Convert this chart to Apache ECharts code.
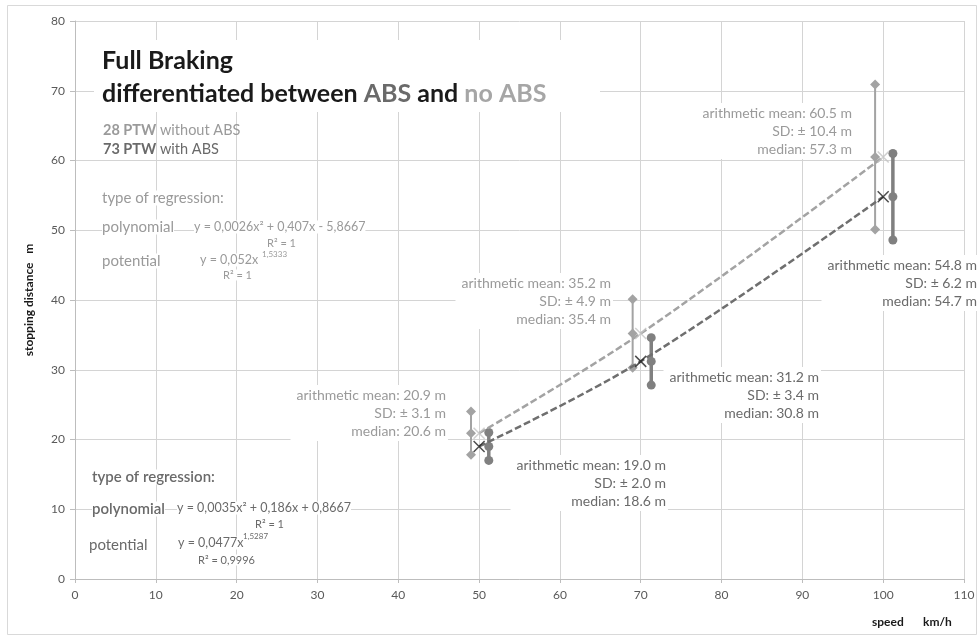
<!DOCTYPE html>
<html>
<head>
<meta charset="utf-8">
<script src="https://cdn.jsdelivr.net/npm/echarts@6/dist/echarts.min.js"></script>
<style>
  html, body { margin: 0; padding: 0; background: #fff; }
  #chart { width: 978px; height: 637px; }
</style>
</head>
<body>
<div id="chart"></div>
<script>
// Nominal test speeds (km/h) where the group means sit
const speeds = [50, 70, 100];
// Slightly offset x positions of the two spread bars so they do not overlap
const speedsNoAbsBar = [49, 69, 99];
const speedsAbsBar = [51.2, 71.3, 101.2];

// Stopping distance statistics (m), PTW without ABS
const meanNoAbs = [20.9, 35.2, 60.5];
const sdNoAbs = [3.1, 4.9, 10.4];
const medianNoAbs = [20.6, 35.4, 57.3];

// Stopping distance statistics (m), PTW with ABS
const meanAbs = [19.0, 31.2, 54.8];
const sdAbs = [2.0, 3.4, 6.2];
const medianAbs = [18.6, 30.8, 54.7];

// Axis ticks
const xTicks = [0, 10, 20, 30, 40, 50, 60, 70, 80, 90, 100, 110];
const yTicks = [0, 10, 20, 30, 40, 50, 60, 70, 80];

const FONT = 'Lato, "Open Sans", sans-serif';
const LIGHT = '#a3a3a3';
const DARK = '#6f6f6f';
const TXT_LIGHT = '#9a9a9a';
const TXT_DARK = '#6a6a6a';

const chart = echarts.init(document.getElementById('chart'));

// spread bars: mean + SD, mean, mean - SD per speed
function spreadSeries(xs, means, sds, color, symbol, size, width) {
  return xs.map((x, i) => ({
    type: 'line',
    data: [[x, +(means[i] + sds[i]).toFixed(1)], [x, means[i]], [x, +(means[i] - sds[i]).toFixed(1)]],
    symbol: symbol,
    symbolSize: size,
    showSymbol: true,
    lineStyle: { color: color, width: width },
    itemStyle: { color: color },
    z: 3,
    silent: true,
    animation: false
  }));
}

const crossPath = 'path://M0,0 L10,10 M10,0 L0,10';

const series = []
  .concat(spreadSeries(speedsNoAbsBar, meanNoAbs, sdNoAbs, LIGHT, 'diamond', 10, 2))
  .concat(spreadSeries(speedsAbsBar, meanAbs, sdAbs, '#808080', 'circle', 9, 3.5))
  .concat([
    {
      type: 'line',
      data: speeds.map((s, i) => [s, meanNoAbs[i]]),
      smooth: 0.35,
      symbol: 'none',
      lineStyle: { color: LIGHT, width: 2.5, type: [7, 3] },
      z: 4, animation: false
    },
    {
      type: 'line',
      data: speeds.map((s, i) => [s, meanAbs[i]]),
      smooth: 0.35,
      symbol: 'none',
      lineStyle: { color: DARK, width: 2.5, type: [7, 3] },
      z: 4, animation: false
    },
    {
      type: 'scatter',
      data: speeds.map((s, i) => [s, meanNoAbs[i]]),
      symbol: crossPath,
      symbolSize: 11,
      itemStyle: { color: 'none', borderColor: '#c4c4c4', borderWidth: 1.6 },
      z: 6, animation: false
    },
    {
      type: 'scatter',
      data: speeds.map((s, i) => [s, meanAbs[i]]),
      symbol: crossPath,
      symbolSize: 11,
      itemStyle: { color: 'none', borderColor: '#222', borderWidth: 1.5 },
      z: 6, animation: false
    }
  ]);

// annotation block: three right-aligned lines; rightX = right edge, midY = centre of first line
function statBlock(rightX, midY, mean, sd, median, color) {
  return {
    type: 'text',
    x: rightX,
    y: midY - 10,
    z: 10,
    style: {
      text: 'arithmetic mean: ' + mean.toFixed(1) + ' m\nSD: ± ' + sd.toFixed(1) + ' m\nmedian: ' + median.toFixed(1) + ' m',
      align: 'right',
      verticalAlign: 'top',
      font: '14px ' + FONT,
      fill: color,
      lineHeight: 18,
      backgroundColor: '#fff',
      padding: [1, 2, 1, 6]
    }
  };
}

function txt(x, y, text, size, color, weight, extra) {
  return {
    type: 'text', x: x, y: y, z: 10,
    style: Object.assign({
      text: text,
      font: (weight || 'normal') + ' ' + size + 'px ' + FONT,
      fill: color,
      verticalAlign: 'middle',
      backgroundColor: '#fff'
    }, extra || {})
  };
}

const graphic = [
  // outer frame
  { type: 'rect', shape: { x: 7.5, y: 5.5, width: 969, height: 629 }, style: { fill: 'none', stroke: '#d9d9d9', lineWidth: 1 }, z: 0, silent: true },
  // title panel
  { type: 'rect', shape: { x: 94, y: 40, width: 506, height: 72 }, style: { fill: '#fff' }, z: 9 },
  txt(102, 61, 'Full Braking', 25, '#1a1a1a', 'bold', { backgroundColor: 'transparent' }),
  {
    type: 'text', x: 102, y: 94, z: 10,
    style: {
      text: 'differentiated between {a|ABS} and {b|no ABS}',
      font: 'bold 25px ' + FONT,
      fill: '#1a1a1a',
      verticalAlign: 'middle',
      rich: {
        a: { font: 'bold 25px ' + FONT, fill: '#6a6a6a' },
        b: { font: 'bold 25px ' + FONT, fill: '#a6a6a6' }
      }
    }
  },
  {
    type: 'text', x: 103, y: 130, z: 10,
    style: {
      text: '{s|28 PTW} without ABS',
      font: '14.5px ' + FONT, fill: TXT_LIGHT, verticalAlign: 'middle',
      rich: { s: { font: 'bold 14.5px ' + FONT, fill: TXT_LIGHT } }
    }
  },
  {
    type: 'text', x: 103, y: 149, z: 10,
    style: {
      text: '{s|73 PTW} with ABS',
      font: '14.5px ' + FONT, fill: TXT_DARK, verticalAlign: 'middle',
      rich: { s: { font: 'bold 14.5px ' + FONT, fill: TXT_DARK } }
    }
  },

  // regression notes, PTW without ABS
  txt(102, 198, 'type of regression:', 15, TXT_LIGHT),
  txt(102, 227, 'polynomial', 15, TXT_LIGHT),
  txt(194, 227, 'y = 0,0026x² + 0,407x - 5,8667', 12.5, TXT_LIGHT),
  txt(267, 243, 'R² = 1', 11, TXT_LIGHT),
  txt(102, 261, 'potential', 15, TXT_LIGHT),
  txt(200, 260, 'y = 0,052x', 12.5, TXT_LIGHT),
  txt(262, 254, '1,5333', 8, TXT_LIGHT, 'normal', { backgroundColor: 'transparent' }),
  txt(223, 275, 'R² = 1', 11, TXT_LIGHT),

  // regression notes, PTW with ABS
  txt(92, 477, 'type of regression:', 15, TXT_DARK, '600'),
  txt(92, 509, 'polynomial', 15, TXT_DARK, '600'),
  txt(177, 508, 'y = 0,0035x² + 0,186x + 0,8667', 12.5, TXT_DARK),
  txt(255, 524, 'R² = 1', 11, TXT_DARK),
  txt(89, 545, 'potential', 15, TXT_DARK),
  txt(178, 543, 'y = 0,0477x', 12.5, TXT_DARK),
  txt(243, 536, '1,5287', 8, TXT_DARK, 'normal', { backgroundColor: 'transparent' }),
  txt(198, 560, 'R² = 0,9996', 11, TXT_DARK),

  // group statistics
  statBlock(448, 395, meanNoAbs[0], sdNoAbs[0], medianNoAbs[0], TXT_LIGHT),
  statBlock(668, 465, meanAbs[0], sdAbs[0], medianAbs[0], TXT_DARK),
  statBlock(613, 283, meanNoAbs[1], sdNoAbs[1], medianNoAbs[1], TXT_LIGHT),
  statBlock(821, 377, meanAbs[1], sdAbs[1], medianAbs[1], TXT_DARK),
  statBlock(854, 113, meanNoAbs[2], sdNoAbs[2], medianNoAbs[2], TXT_LIGHT),
  statBlock(979, 265, meanAbs[2], sdAbs[2], medianAbs[2], TXT_DARK),

  // x axis title
  txt(872, 622, 'speed', 12, '#1a1a1a', 'bold', { backgroundColor: 'transparent' }),
  txt(923, 622, 'km/h', 12, '#1a1a1a', 'bold', { backgroundColor: 'transparent' })
];

chart.setOption({
  animation: false,
  backgroundColor: '#fff',
  grid: { left: 75, right: 14, top: 21, bottom: 58 },
  xAxis: {
    type: 'value',
    min: xTicks[0],
    max: xTicks[xTicks.length - 1],
    interval: 10,
    axisLine: { show: true, lineStyle: { color: '#bdbdbd' } },
    axisTick: { show: true, inside: false, length: 4, lineStyle: { color: '#bdbdbd' } },
    axisLabel: { color: '#595959', fontSize: 12, fontFamily: FONT, margin: 10 },
    splitLine: { show: true, lineStyle: { color: '#d4d4d4', width: 1 } }
  },
  yAxis: {
    type: 'value',
    min: yTicks[0],
    max: yTicks[yTicks.length - 1],
    interval: 10,
    name: 'stopping distance   m',
    nameLocation: 'middle',
    nameGap: 40,
    nameTextStyle: { color: '#1a1a1a', fontSize: 12, fontWeight: 'bold', fontFamily: FONT },
    axisLine: { show: true, lineStyle: { color: '#bdbdbd' } },
    axisTick: { show: true, length: 5, lineStyle: { color: '#bdbdbd' } },
    axisLabel: { color: '#595959', fontSize: 12, fontFamily: FONT, margin: 10 },
    splitLine: { show: true, lineStyle: { color: '#d4d4d4', width: 1 } }
  },
  series: series,
  graphic: graphic
});
</script>
</body>
</html>
